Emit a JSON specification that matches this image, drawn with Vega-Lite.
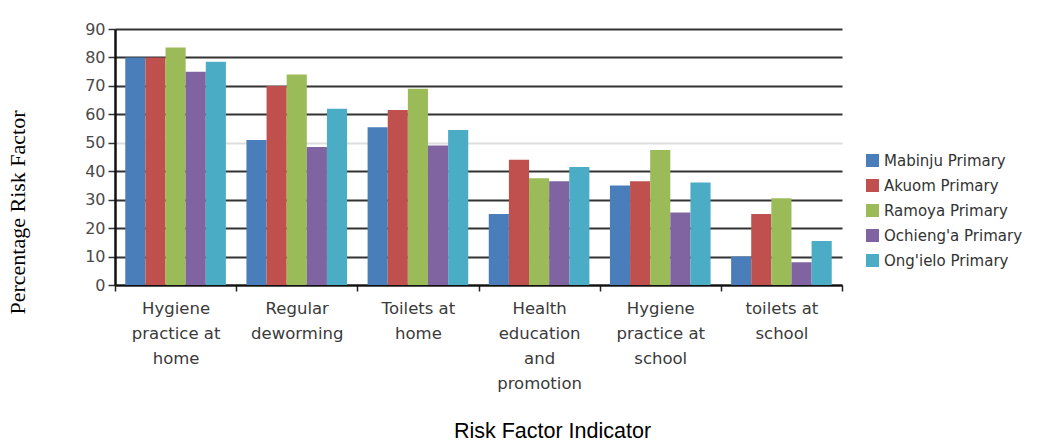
{
  "$schema": "https://vega.github.io/schema/vega-lite/v6.json",
  "width": 727,
  "height": 256,
  "autosize": {"type": "none"},
  "padding": {"left": 115, "top": 29, "right": 219, "bottom": 156},
  "background": "white",
  "data": {
    "values": [
      {"indicator": "Hygiene practice at home", "school": "Mabinju Primary", "pct": 80},
      {"indicator": "Hygiene practice at home", "school": "Akuom Primary", "pct": 80},
      {"indicator": "Hygiene practice at home", "school": "Ramoya Primary", "pct": 83.5},
      {"indicator": "Hygiene practice at home", "school": "Ochieng'a Primary", "pct": 75},
      {"indicator": "Hygiene practice at home", "school": "Ong'ielo Primary", "pct": 78.5},
      {"indicator": "Regular deworming", "school": "Mabinju Primary", "pct": 51},
      {"indicator": "Regular deworming", "school": "Akuom Primary", "pct": 70},
      {"indicator": "Regular deworming", "school": "Ramoya Primary", "pct": 74},
      {"indicator": "Regular deworming", "school": "Ochieng'a Primary", "pct": 48.5},
      {"indicator": "Regular deworming", "school": "Ong'ielo Primary", "pct": 62},
      {"indicator": "Toilets at home", "school": "Mabinju Primary", "pct": 55.5},
      {"indicator": "Toilets at home", "school": "Akuom Primary", "pct": 61.5},
      {"indicator": "Toilets at home", "school": "Ramoya Primary", "pct": 69},
      {"indicator": "Toilets at home", "school": "Ochieng'a Primary", "pct": 49},
      {"indicator": "Toilets at home", "school": "Ong'ielo Primary", "pct": 54.5},
      {"indicator": "Health education and promotion", "school": "Mabinju Primary", "pct": 25},
      {"indicator": "Health education and promotion", "school": "Akuom Primary", "pct": 44},
      {"indicator": "Health education and promotion", "school": "Ramoya Primary", "pct": 37.5},
      {"indicator": "Health education and promotion", "school": "Ochieng'a Primary", "pct": 36.5},
      {"indicator": "Health education and promotion", "school": "Ong'ielo Primary", "pct": 41.5},
      {"indicator": "Hygiene practice at school", "school": "Mabinju Primary", "pct": 35},
      {"indicator": "Hygiene practice at school", "school": "Akuom Primary", "pct": 36.5},
      {"indicator": "Hygiene practice at school", "school": "Ramoya Primary", "pct": 47.5},
      {"indicator": "Hygiene practice at school", "school": "Ochieng'a Primary", "pct": 25.5},
      {"indicator": "Hygiene practice at school", "school": "Ong'ielo Primary", "pct": 36},
      {"indicator": "toilets at school", "school": "Mabinju Primary", "pct": 10},
      {"indicator": "toilets at school", "school": "Akuom Primary", "pct": 25},
      {"indicator": "toilets at school", "school": "Ramoya Primary", "pct": 30.5},
      {"indicator": "toilets at school", "school": "Ochieng'a Primary", "pct": 8},
      {"indicator": "toilets at school", "school": "Ong'ielo Primary", "pct": 15.5}
    ]
  },
  "mark": {"type": "bar"},
  "encoding": {
    "x": {
      "field": "indicator",
      "type": "nominal",
      "sort": null,
      "scale": {"paddingInner": 0, "paddingOuter": 0},
      "axis": {
        "title": "Risk Factor Indicator",
        "titleFont": "Liberation Sans",
        "titleFontSize": 21.5,
        "titleFontWeight": "normal",
        "titleColor": "black",
        "titleX": 437,
        "titleY": 146,
        "titleAnchor": "middle",
        "titleAlign": "center",
        "titleBaseline": "middle",
        "labelAngle": 0,
        "labelFont": "DejaVu Sans",
        "labelFontSize": 16.5,
        "labelColor": "#3a3a3a",
        "labelLineHeight": 25,
        "labelPadding": 9,
        "labelBaseline": "top",
        "labelLimit": 200,
        "labelExpr": "datum.value == 'Hygiene practice at home' ? ['Hygiene','practice at','home'] : datum.value == 'Regular deworming' ? ['Regular','deworming'] : datum.value == 'Toilets at home' ? ['Toilets at','home'] : datum.value == 'Health education and promotion' ? ['Health','education','and','promotion'] : datum.value == 'Hygiene practice at school' ? ['Hygiene','practice at','school'] : datum.value == 'toilets at school' ? ['toilets at','school'] : ''",
        "tickBand": "extent",
        "tickColor": "#222",
        "tickSize": 6,
        "tickWidth": 1.5,
        "domainColor": "#111",
        "domainWidth": 2,
        "grid": false
      }
    },
    "xOffset": {
      "field": "school",
      "type": "nominal",
      "sort": ["Mabinju Primary", "Akuom Primary", "Ramoya Primary", "Ochieng'a Primary", "Ong'ielo Primary"],
      "scale": {"paddingInner": 0, "paddingOuter": 0.51}
    },
    "y": {
      "field": "pct",
      "type": "quantitative",
      "scale": {"domain": [0, 90], "nice": false},
      "axis": {
        "title": "Percentage Risk Factor",
        "titleFont": "Liberation Serif",
        "titleFontSize": 22,
        "titleFontWeight": "normal",
        "titleColor": "black",
        "titleAngle": 270,
        "titleX": -98,
        "titleY": 183,
        "titleAlign": "center",
        "titleBaseline": "middle",
        "values": [0, 10, 20, 30, 40, 50, 60, 70, 80, 90],
        "labelFont": "DejaVu Sans",
        "labelFontSize": 16,
        "labelColor": "#4a4a4a",
        "labelPadding": 3,
        "tickColor": "#333",
        "tickSize": 7,
        "tickWidth": 1.5,
        "domainColor": "#111",
        "domainWidth": 2.5,
        "grid": true,
        "gridColor": {"condition": {"test": "datum.value === 50", "value": "#dddddd"}, "value": "#333333"},
        "gridWidth": 1.8
      }
    },
    "color": {
      "field": "school",
      "type": "nominal",
      "sort": ["Mabinju Primary", "Akuom Primary", "Ramoya Primary", "Ochieng'a Primary", "Ong'ielo Primary"],
      "scale": {
        "domain": ["Mabinju Primary", "Akuom Primary", "Ramoya Primary", "Ochieng'a Primary", "Ong'ielo Primary"],
        "range": ["#4A7EBB", "#C0504D", "#9BBB59", "#8064A2", "#4BACC6"]
      },
      "legend": {
        "title": null,
        "orient": "none",
        "legendX": 750,
        "legendY": 124,
        "symbolType": "square",
        "symbolSize": 170,
        "symbolStrokeWidth": 0,
        "labelFont": "DejaVu Sans",
        "labelFontSize": 15,
        "labelColor": "#333",
        "labelOffset": 4,
        "rowPadding": 9
      }
    }
  },
  "config": {
    "view": {"stroke": null}
  }
}
